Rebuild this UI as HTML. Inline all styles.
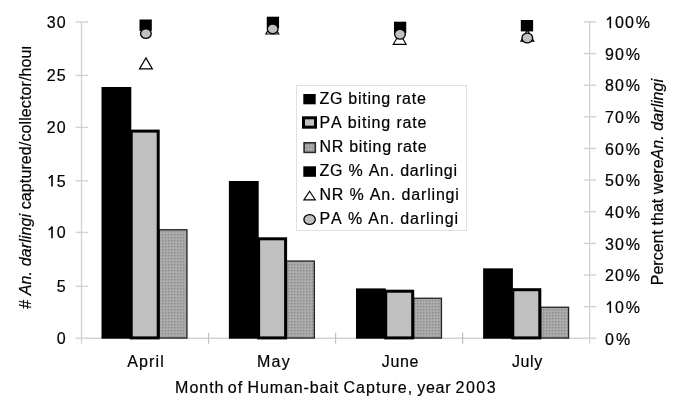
<!DOCTYPE html><html><head><meta charset="utf-8"><style>html,body{margin:0;padding:0;background:#fff;width:685px;height:410px;overflow:hidden}svg{display:block;filter:grayscale(100%) blur(0.35px)}text{font-family:"Liberation Sans",sans-serif;font-size:16px;fill:#000;stroke:#000;stroke-width:0.2px;font-kerning:none;font-feature-settings:"kern" 0,"liga" 0}</style></head><body>
<svg width="685" height="410" viewBox="0 0 685 410">
<defs><pattern id="dots" width="3" height="3" patternUnits="userSpaceOnUse"><rect width="3" height="3" fill="#ababab"/><rect x="0" y="0" width="2" height="1" fill="#9c9c9c"/><rect x="0" y="0" width="1" height="2" fill="#9c9c9c"/><rect x="0" y="0" width="1" height="1" fill="#8c8c8c"/></pattern></defs>
<g fill="none">
<line x1="81.50" y1="21.90" x2="81.50" y2="343.80" stroke="#d2d2d2" stroke-width="1.3"/>
<line x1="589.70" y1="21.90" x2="589.70" y2="343.80" stroke="#d2d2d2" stroke-width="1.3"/>
<line x1="75.50" y1="338.30" x2="596.20" y2="338.30" stroke="#d4d4d4" stroke-width="1.5"/>
</g>
<g stroke="#d2d2d2" stroke-width="1.4" fill="none">
<line x1="75.50" y1="286.30" x2="88.00" y2="286.30"/>
<line x1="75.50" y1="232.40" x2="88.00" y2="232.40"/>
<line x1="75.50" y1="180.80" x2="88.00" y2="180.80"/>
<line x1="75.50" y1="127.40" x2="88.00" y2="127.40"/>
<line x1="75.50" y1="75.40" x2="88.00" y2="75.40"/>
<line x1="75.50" y1="22.00" x2="88.00" y2="22.00"/>
<line x1="583.70" y1="306.66" x2="596.20" y2="306.66"/>
<line x1="583.70" y1="275.02" x2="596.20" y2="275.02"/>
<line x1="583.70" y1="243.38" x2="596.20" y2="243.38"/>
<line x1="583.70" y1="211.74" x2="596.20" y2="211.74"/>
<line x1="583.70" y1="180.10" x2="596.20" y2="180.10"/>
<line x1="583.70" y1="148.46" x2="596.20" y2="148.46"/>
<line x1="583.70" y1="116.82" x2="596.20" y2="116.82"/>
<line x1="583.70" y1="85.18" x2="596.20" y2="85.18"/>
<line x1="583.70" y1="53.54" x2="596.20" y2="53.54"/>
<line x1="583.70" y1="21.90" x2="596.20" y2="21.90"/>
</g>
<g stroke="#c0c0c0" stroke-width="1.2" fill="none">
<line x1="208.55" y1="332.80" x2="208.55" y2="343.80"/>
<line x1="335.60" y1="332.80" x2="335.60" y2="343.80"/>
<line x1="462.65" y1="332.80" x2="462.65" y2="343.80"/>
</g>
<rect x="159.15" y="229.75" width="27.80" height="108.30" fill="url(#dots)" stroke="#222" stroke-width="1.3"/>
<rect x="101.50" y="87.00" width="29.80" height="251.70" fill="#000"/>
<rect x="131.20" y="131.10" width="27.00" height="206.80" fill="#c0c0c0" stroke="#000" stroke-width="3"/>
<rect x="286.55" y="261.05" width="27.80" height="77.00" fill="url(#dots)" stroke="#222" stroke-width="1.3"/>
<rect x="228.90" y="181.00" width="29.80" height="157.70" fill="#000"/>
<rect x="258.60" y="238.80" width="27.00" height="99.10" fill="#c0c0c0" stroke="#000" stroke-width="3"/>
<rect x="413.65" y="298.25" width="27.80" height="39.80" fill="url(#dots)" stroke="#222" stroke-width="1.3"/>
<rect x="356.00" y="288.40" width="29.80" height="50.30" fill="#000"/>
<rect x="385.70" y="291.20" width="27.00" height="46.70" fill="#c0c0c0" stroke="#000" stroke-width="3"/>
<rect x="540.75" y="307.25" width="27.80" height="30.80" fill="url(#dots)" stroke="#222" stroke-width="1.3"/>
<rect x="483.10" y="268.35" width="29.80" height="70.35" fill="#000"/>
<rect x="512.80" y="289.70" width="27.00" height="48.20" fill="#c0c0c0" stroke="#000" stroke-width="3"/>
<rect x="139.50" y="19.50" width="12.30" height="11.40" fill="#000"/>
<path d="M145.95 57.92L152.37 68.90L139.53 68.90Z" fill="#fff" stroke="#000" stroke-width="1.20" stroke-linejoin="miter"/>
<ellipse cx="145.90" cy="33.60" rx="5.35" ry="4.85" fill="#c0c0c0" stroke="#000" stroke-width="1.3"/>
<rect x="266.75" y="16.70" width="12.30" height="11.40" fill="#000"/>
<path d="M272.35 23.02L278.77 34.00L265.93 34.00Z" fill="#fff" stroke="#000" stroke-width="1.20" stroke-linejoin="miter"/>
<ellipse cx="272.70" cy="28.90" rx="5.35" ry="4.85" fill="#c0c0c0" stroke="#000" stroke-width="1.3"/>
<rect x="393.95" y="21.70" width="12.30" height="11.40" fill="#000"/>
<path d="M399.70 33.32L406.12 44.30L393.28 44.30Z" fill="#fff" stroke="#000" stroke-width="1.20" stroke-linejoin="miter"/>
<ellipse cx="400.00" cy="34.30" rx="5.35" ry="4.85" fill="#c0c0c0" stroke="#000" stroke-width="1.3"/>
<rect x="520.80" y="20.00" width="12.30" height="11.40" fill="#000"/>
<path d="M527.35 30.12L533.77 41.10L520.93 41.10Z" fill="#fff" stroke="#000" stroke-width="1.20" stroke-linejoin="miter"/>
<ellipse cx="527.30" cy="38.00" rx="5.35" ry="4.85" fill="#c0c0c0" stroke="#000" stroke-width="1.3"/>
<text x="66.60" y="344.10" text-anchor="end" letter-spacing="1.00">0</text>
<text x="66.60" y="292.10" text-anchor="end" letter-spacing="1.00">5</text>
<path d="M52.01 226.60V238.20" stroke="#000" stroke-width="1.6" fill="none"/><path d="M52.11 227.10L48.71 230.00" stroke="#000" stroke-width="1.5" fill="none"/>
<text x="66.60" y="238.20" text-anchor="end" letter-spacing="1.00">0</text>
<path d="M52.01 175.00V186.60" stroke="#000" stroke-width="1.6" fill="none"/><path d="M52.11 175.50L48.71 178.40" stroke="#000" stroke-width="1.5" fill="none"/>
<text x="66.60" y="186.60" text-anchor="end" letter-spacing="1.00">5</text>
<text x="66.60" y="133.20" text-anchor="end" letter-spacing="1.00">20</text>
<text x="66.60" y="81.20" text-anchor="end" letter-spacing="1.00">25</text>
<text x="66.60" y="27.80" text-anchor="end" letter-spacing="1.00">30</text>
<text x="605.10" y="344.60" text-anchor="start" letter-spacing="1.00">0<tspan dx="0.9">%</tspan></text>
<path d="M610.30 301.36V312.96" stroke="#000" stroke-width="1.6" fill="none"/><path d="M610.40 301.86L607.00 304.76" stroke="#000" stroke-width="1.5" fill="none"/>
<text x="615.00" y="312.96" text-anchor="start" letter-spacing="1.00">0<tspan dx="0.9">%</tspan></text>
<text x="605.10" y="281.32" text-anchor="start" letter-spacing="1.00">20<tspan dx="0.9">%</tspan></text>
<text x="605.10" y="249.68" text-anchor="start" letter-spacing="1.00">30<tspan dx="0.9">%</tspan></text>
<text x="605.10" y="218.04" text-anchor="start" letter-spacing="1.00">40<tspan dx="0.9">%</tspan></text>
<text x="605.10" y="186.40" text-anchor="start" letter-spacing="1.00">50<tspan dx="0.9">%</tspan></text>
<text x="605.10" y="154.76" text-anchor="start" letter-spacing="1.00">60<tspan dx="0.9">%</tspan></text>
<text x="605.10" y="123.12" text-anchor="start" letter-spacing="1.00">70<tspan dx="0.9">%</tspan></text>
<text x="605.10" y="91.48" text-anchor="start" letter-spacing="1.00">80<tspan dx="0.9">%</tspan></text>
<text x="605.10" y="59.84" text-anchor="start" letter-spacing="1.00">90<tspan dx="0.9">%</tspan></text>
<path d="M610.30 16.60V28.20" stroke="#000" stroke-width="1.6" fill="none"/><path d="M610.40 17.10L607.00 20.00" stroke="#000" stroke-width="1.5" fill="none"/>
<text x="615.00" y="28.20" text-anchor="start" letter-spacing="1.00">00<tspan dx="0.9">%</tspan></text>
<text x="146.02" y="366.60" text-anchor="middle" letter-spacing="1.15">April</text>
<text x="274.05" y="366.60" text-anchor="middle" letter-spacing="1.30">May</text>
<text x="400.40" y="366.60" text-anchor="middle" letter-spacing="0.60">June</text>
<text x="527.40" y="366.60" text-anchor="middle" letter-spacing="0.60">July</text>
<text x="175.10" y="392.80" text-anchor="start" letter-spacing="0.98">Month</text>
<text x="227.80" y="392.80" text-anchor="start" letter-spacing="1.00">of</text>
<text x="247.60" y="392.80" text-anchor="start" letter-spacing="0.88">Human-bait</text>
<text x="343.50" y="392.80" text-anchor="start" letter-spacing="1.04">Capture,</text>
<text x="417.30" y="392.80" text-anchor="start" letter-spacing="0.70">year</text>
<text x="455.50" y="392.80" text-anchor="start" letter-spacing="1.50">2003</text>
<clipPath id="ct"><rect x="0" y="46.8" width="60" height="300"/></clipPath>
<g clip-path="url(#ct)"><text transform="translate(31.0,308.8) rotate(-90)" x="0" y="0" letter-spacing="0.11"># <tspan font-style="italic">An. darlingi</tspan> captured/collector/hour</text></g>
<text transform="translate(663.0,285.3) rotate(-90)" x="0" y="0" letter-spacing="0.03">Percent that were<tspan font-style="italic">An. darlingi</tspan></text>
<rect x="296.50" y="85.50" width="170.00" height="145.00" fill="#fff" stroke="#e0e0e0" stroke-width="1"/>
<rect x="303.3" y="94" width="12.4" height="10.3" fill="#000"/>
<rect x="303.5" y="117.8" width="12" height="9.4" fill="#c0c0c0" stroke="#000" stroke-width="3"/>
<rect x="304.1" y="142.8" width="11.2" height="9.6" fill="url(#dots)" stroke="#2a2a2a" stroke-width="1.6"/>
<rect x="303.3" y="166.3" width="12.7" height="10.5" fill="#000"/>
<path d="M309.6 191.3L315.3 199.9L303.9 199.9Z" fill="#fff" stroke="#000" stroke-width="1.15"/>
<ellipse cx="309.6" cy="219.5" rx="5.7" ry="4.8" fill="#c0c0c0" stroke="#000" stroke-width="1.3"/>
<text x="319.50" y="104.30" text-anchor="start" letter-spacing="0.72">ZG biting rate</text>
<text x="319.50" y="128.40" text-anchor="start" letter-spacing="0.84">PA biting rate</text>
<text x="319.50" y="152.30" text-anchor="start" letter-spacing="0.72">NR biting rate</text>
<text x="319.50" y="176.10" text-anchor="start" letter-spacing="0.76">ZG % An. darlingi</text>
<text x="319.50" y="200.40" text-anchor="start" letter-spacing="0.82">NR % An. darlingi</text>
<text x="319.50" y="224.30" text-anchor="start" letter-spacing="0.88">PA % An. darlingi</text>
</svg></body></html>
